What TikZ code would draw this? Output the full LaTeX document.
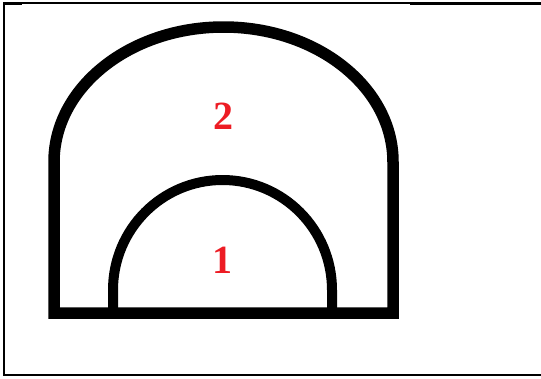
\documentclass[tikz,border=0pt]{standalone}
\usepackage{fontspec}
\setmainfont{Liberation Serif}
\definecolor{labred}{HTML}{ED1C24}
\begin{document}
\begin{tikzpicture}[x=1pt,y=-1pt,
  frame/.style={line width=2.4pt},
  outerline/.style={line width=11.5pt},
  innerline/.style={line width=10pt},
  lab/.style={text=labred,font=\bfseries\fontsize{40}{40}\selectfont,inner sep=0pt}]
\useasboundingbox (0,0) rectangle (541,378);
% frame (no right side)
\draw[frame] (541,3) -- (4,3) -- (4,375) -- (541,375);
\draw[line width=3pt] (4,3) -- (22,3);
\draw[line width=3pt] (410,3) -- (541,3);
% outer shape
\draw[outerline,line join=miter] (54,162) arc[start angle=180,end angle=360,x radius=169.5,y radius=135]
  -- (393,313) -- (54,313) -- cycle;
% inner arch
\draw[innerline] (113,313) -- (113,290) arc[start angle=180,end angle=360,x radius=109.5,y radius=110] -- (332,313);
% labels
\node[lab] (two) at (223,116) {2};
\node[lab] (one) at (222,260) {1};
\end{tikzpicture}
\end{document}
